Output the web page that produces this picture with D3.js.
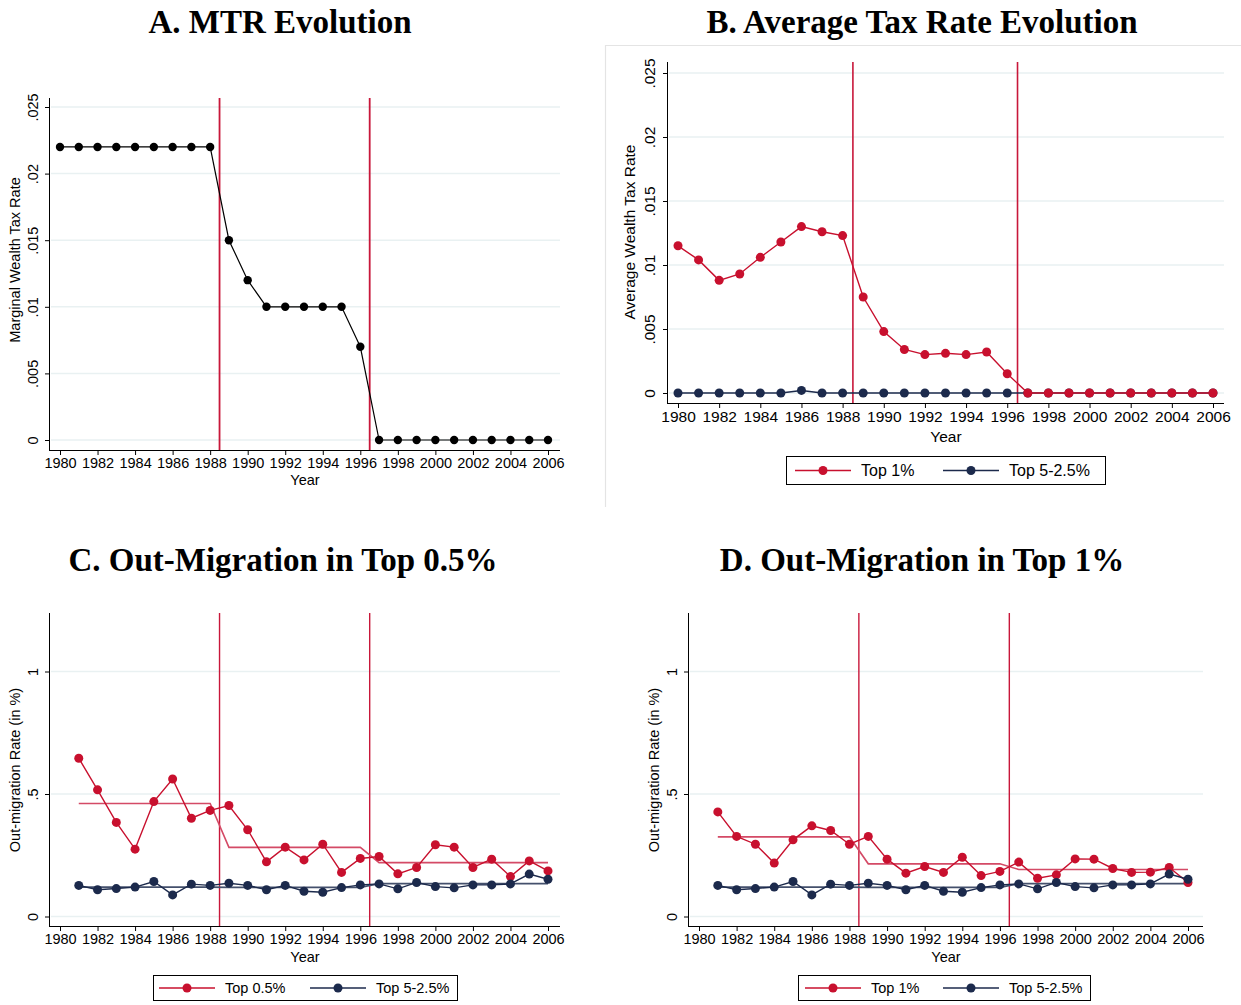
<!DOCTYPE html>
<html>
<head>
<meta charset="utf-8">
<script src="https://cdn.jsdelivr.net/npm/d3@7"></script>
<style>
  html, body { margin: 0; padding: 0; background: #fff; }
  svg { display: block; }
  .title { font-family: "Liberation Serif", "DejaVu Serif", serif; font-weight: bold; font-size: 33px; fill: #000; }
  .tick text, .lab { font-family: "Liberation Sans", Arial, sans-serif; fill: #000; }
</style>
</head>
<body>
<svg id="chart" width="1241" height="1005"></svg>
<script>
// ---------- data ----------
const years = d3.range(1980, 2007);            // 1980 … 2006
const migYears = d3.range(1981, 2007);         // 1981 … 2006
const xTickLabels = d3.range(1980, 2007, 2);

// A. marginal wealth tax rate
const mtr = [0.022, 0.022, 0.022, 0.022, 0.022, 0.022, 0.022, 0.022, 0.022,
             0.015, 0.012, 0.010, 0.010, 0.010, 0.010, 0.010, 0.007,
             0, 0, 0, 0, 0, 0, 0, 0, 0, 0];

// B. average wealth tax rate
const avgTop1 = [0.0115, 0.0104, 0.0088, 0.0093, 0.0106, 0.0118, 0.0130, 0.0126, 0.0123,
                 0.0075, 0.0048, 0.0034, 0.0030, 0.0031, 0.0030, 0.0032, 0.0015,
                 0, 0, 0, 0, 0, 0, 0, 0, 0, 0];
const avgTop5 = [0, 0, 0, 0, 0, 0, 0.0002, 0, 0,
                 0, 0, 0, 0, 0, 0, 0, 0,
                 0, 0, 0, 0, 0, 0, 0, 0, 0, 0];

// C/D. out-migration rates (in %), 1981–2006
const migTop05 = [0.646, 0.517, 0.384, 0.275, 0.469, 0.561, 0.401, 0.433,
                  0.453, 0.354, 0.223, 0.283, 0.231, 0.295, 0.180, 0.237,
                  0.245, 0.174, 0.200, 0.293, 0.283, 0.200, 0.234, 0.163, 0.227, 0.186];
const migTop1  = [0.427, 0.327, 0.295, 0.218, 0.313, 0.370, 0.351, 0.295,
                  0.327, 0.234, 0.177, 0.204, 0.180, 0.242, 0.167, 0.184,
                  0.222, 0.156, 0.170, 0.235, 0.234, 0.196, 0.180, 0.181, 0.200, 0.139];
const migTop5  = [0.127, 0.109, 0.114, 0.120, 0.143, 0.088, 0.132, 0.127,
                  0.136, 0.127, 0.109, 0.127, 0.103, 0.099, 0.118, 0.129,
                  0.133, 0.113, 0.139, 0.122, 0.117, 0.129, 0.129, 0.133, 0.173, 0.152];

// period averages (reform regimes)
const periodStart = [1981, 1989, 1997];
const periodEnd   = [1988, 1996, 2006];
const meanTop05 = [0.461, 0.282, 0.220];
const meanTop1  = [0.325, 0.215, 0.192];
const meanTop5  = [0.120, 0.119, 0.134];

const reformYears = [1988.5, 1996.5];
const taxTicks = [0, 0.005, 0.01, 0.015, 0.02, 0.025];
const taxTickLabels = ["0", ".005", ".01", ".015", ".02", ".025"];
const migTicks = [0, 0.5, 1];
const migTickLabels = ["0", ".5", "1"];

// ---------- styling ----------
const RED = "#c8102e";
const RED_MEAN = "#d44a66";
const NAVY = "#1c2a4c";
const NAVY_MEAN = "#44506c";
const VLINE = "#c8173a";
const GRID = "#e9f1f2";

const svg = d3.select("#chart");

function panel(cfg) {
  const g = svg.append("g");
  const x = d3.scaleLinear().domain([1980, 2006]).range([cfg.x1980, cfg.x2006]);
  const y = d3.scaleLinear().domain(cfg.yDomain).range(cfg.yRange);

  // title
  g.append("text").attr("class", "title")
    .attr("x", cfg.titleX).attr("y", cfg.titleY)
    .attr("text-anchor", "middle").text(cfg.title);

  // gridlines
  g.append("g").selectAll("line").data(cfg.yTicks).join("line")
    .attr("x1", cfg.axisX + 1).attr("x2", cfg.right)
    .attr("y1", d => y(d)).attr("y2", d => y(d))
    .attr("stroke", GRID).attr("stroke-width", 1.5);

  // y axis
  const yAxis = d3.axisLeft(y).tickValues(cfg.yTicks).tickSize(5).tickPadding(4)
    .tickFormat((d, i) => cfg.yTickLabels[i]);
  const ya = g.append("g").attr("transform", `translate(${cfg.axisX},0)`).call(yAxis);
  ya.select(".domain").attr("d", `M-0.5,${cfg.top}V${cfg.axisY}`).attr("stroke", "#000");
  ya.selectAll(".tick line").attr("stroke", "#000");
  ya.selectAll(".tick text")
    .attr("font-size", cfg.fs)
    .attr("transform", "rotate(-90)")
    .attr("x", 0).attr("y", -cfg.yLabelOff)
    .attr("dy", "0.35em")
    .attr("text-anchor", "middle");

  // x axis
  const xAxis = d3.axisBottom(x).tickValues(xTickLabels).tickSize(5).tickPadding(3)
    .tickFormat(d3.format("d"));
  const xa = g.append("g").attr("transform", `translate(0,${cfg.axisY})`).call(xAxis);
  xa.select(".domain").attr("d", `M${cfg.axisX - 1},0.5H${cfg.right}`).attr("stroke", "#000");
  xa.selectAll(".tick line").attr("stroke", "#000");
  xa.selectAll(".tick text").attr("font-size", cfg.fs);

  // axis titles
  g.append("text").attr("class", "lab").attr("font-size", cfg.fs)
    .attr("x", (cfg.axisX + cfg.right) / 2).attr("y", cfg.yearY)
    .attr("text-anchor", "middle").text("Year");
  g.append("text").attr("class", "lab").attr("font-size", cfg.fs)
    .attr("transform", `translate(${cfg.yTitleX},${cfg.yTitleY}) rotate(-90)`)
    .attr("text-anchor", "middle").text(cfg.yTitle);

  // reform lines
  g.append("g").selectAll("line").data(reformYears).join("line")
    .attr("x1", d => x(d)).attr("x2", d => x(d))
    .attr("y1", cfg.top).attr("y2", cfg.axisY)
    .attr("stroke", VLINE).attr("stroke-width", cfg.vlineW);

  const line = d3.line().x(d => x(d[0])).y(d => y(d[1]));

  // period mean step lines
  (cfg.means || []).forEach(m => {
    const pts = [];
    periodStart.forEach((s, i) => {
      pts.push([s, m.values[i]]);
      pts.push([periodEnd[i], m.values[i]]);
    });
    g.append("path").attr("d", line(pts)).attr("fill", "none")
      .attr("stroke", m.color).attr("stroke-width", 1.6);
  });

  // series
  cfg.series.forEach(s => {
    const pts = s.xs.map((yr, i) => [yr, s.values[i]]);
    g.append("path").attr("d", line(pts)).attr("fill", "none")
      .attr("stroke", s.color).attr("stroke-width", s.width || 1.4);
    g.append("g").selectAll("circle").data(pts).join("circle")
      .attr("cx", d => x(d[0])).attr("cy", d => y(d[1]))
      .attr("r", s.r || 4.5).attr("fill", s.color);
  });

  // legend
  if (cfg.legend) {
    const L = cfg.legend;
    g.append("rect").attr("x", L.x + 0.5).attr("y", L.y + 0.5)
      .attr("width", L.w).attr("height", L.h)
      .attr("fill", "#fff").attr("stroke", "#000").attr("stroke-width", 1);
    const cy = L.y + L.h / 2 + 0.5;
    L.items.forEach(it => {
      g.append("line").attr("x1", it.x0).attr("x2", it.x0 + 56)
        .attr("y1", cy).attr("y2", cy).attr("stroke", it.color).attr("stroke-width", 1.6);
      g.append("circle").attr("cx", it.x0 + 28).attr("cy", cy).attr("r", 4.5).attr("fill", it.color);
      g.append("text").attr("class", "lab").attr("font-size", L.fs)
        .attr("x", it.x0 + 66).attr("y", cy).attr("dy", "0.35em").text(it.label);
    });
  }
}

// faint frame of panel B
svg.append("path").attr("d", "M605.5,507V45.5H1241")
  .attr("fill", "none").attr("stroke", "#e4e4e4").attr("stroke-width", 1.2);

// A. MTR Evolution
panel({
  title: "A. MTR Evolution", titleX: 280, titleY: 33,
  x1980: 60, x2006: 548, axisX: 50, right: 560, top: 98, axisY: 450,
  yDomain: [0, 0.025], yRange: [440, 107],
  yTicks: taxTicks, yTickLabels: taxTickLabels, yLabelOff: 17,
  fs: 14.5, yearY: 485, yTitleX: 20, yTitleY: 260, yTitle: "Marginal Wealth Tax Rate",
  vlineW: 1.8,
  series: [{ xs: years, values: mtr, color: "#000", width: 1.2, r: 4.2 }]
});

// B. Average Tax Rate Evolution
panel({
  title: "B. Average Tax Rate Evolution", titleX: 922, titleY: 33,
  x1980: 678, x2006: 1213, axisX: 668, right: 1224, top: 62, axisY: 403,
  yDomain: [0, 0.025], yRange: [393, 73],
  yTicks: taxTicks, yTickLabels: taxTickLabels, yLabelOff: 18,
  fs: 15.5, yearY: 442, yTitleX: 635, yTitleY: 232, yTitle: "Average Wealth Tax Rate",
  vlineW: 1.6,
  series: [
    { xs: years, values: avgTop5, color: NAVY },
    { xs: years, values: avgTop1, color: RED }
  ],
  legend: { x: 786, y: 456, w: 319, h: 28, fs: 16,
    items: [{ x0: 795, color: RED, label: "Top 1%" }, { x0: 943, color: NAVY, label: "Top 5-2.5%" }] }
});

// C. Out-Migration in Top 0.5%
panel({
  title: "C. Out-Migration in Top 0.5%", titleX: 283, titleY: 571,
  x1980: 60, x2006: 548, axisX: 50, right: 560, top: 613, axisY: 926,
  yDomain: [0, 1], yRange: [916.5, 671.5],
  yTicks: migTicks, yTickLabels: migTickLabels, yLabelOff: 17,
  fs: 14.5, yearY: 962, yTitleX: 20, yTitleY: 770, yTitle: "Out-migration Rate (in %)",
  vlineW: 1.4,
  means: [{ values: meanTop05, color: RED_MEAN }, { values: meanTop5, color: NAVY_MEAN }],
  series: [
    { xs: migYears, values: migTop05, color: RED },
    { xs: migYears, values: migTop5, color: NAVY }
  ],
  legend: { x: 153, y: 975, w: 304, h: 25, fs: 14.5,
    items: [{ x0: 159, color: RED, label: "Top 0.5%" }, { x0: 310, color: NAVY, label: "Top 5-2.5%" }] }
});

// D. Out-Migration in Top 1%
panel({
  title: "D. Out-Migration in Top 1%", titleX: 922, titleY: 571,
  x1980: 699, x2006: 1188, axisX: 689, right: 1203, top: 613, axisY: 926,
  yDomain: [0, 1], yRange: [916.5, 671.5],
  yTicks: migTicks, yTickLabels: migTickLabels, yLabelOff: 17,
  fs: 14.5, yearY: 962, yTitleX: 659, yTitleY: 770, yTitle: "Out-migration Rate (in %)",
  vlineW: 1.4,
  means: [{ values: meanTop1, color: RED_MEAN }, { values: meanTop5, color: NAVY_MEAN }],
  series: [
    { xs: migYears, values: migTop1, color: RED },
    { xs: migYears, values: migTop5, color: NAVY }
  ],
  legend: { x: 798, y: 975, w: 292, h: 25, fs: 14.5,
    items: [{ x0: 805, color: RED, label: "Top 1%" }, { x0: 943, color: NAVY, label: "Top 5-2.5%" }] }
});
</script>
</body>
</html>
